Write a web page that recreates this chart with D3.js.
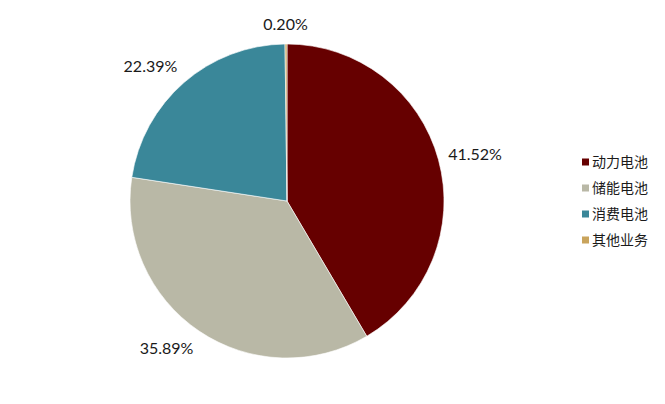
<!DOCTYPE html>
<html>
<head>
<meta charset="utf-8">
<script src="https://cdn.jsdelivr.net/npm/d3@7"></script>
<style>
  body { margin: 0; background: #fff; }
  svg { display: block; }
</style>
</head>
<body>
<svg id="chart" width="665" height="404"></svg>
<script>
// data
var categories = ['动力电池', '储能电池', '消费电池', '其他业务']
var shares = [41.52, 35.89, 22.39, 0.20]
var colours = ['#660000', '#B9B8A6', '#3A8799', '#C9A45C']

var width = 665, height = 404
var cx = 287, cy = 201, radius = 157

var svg = d3.select('#chart')

var pie = d3.pie()
            .sort(null)
            .value(function(d) { return d })
var arcs = pie(shares)

var arc = d3.arc().innerRadius(0).outerRadius(radius)

var g = svg.append('g').attr('transform', 'translate(' + cx + ',' + cy + ')')

g.selectAll('path')
 .data(arcs)
 .enter()
 .append('path')
 .attr('d', arc)
 .attr('fill', function(d, i) { return colours[i] })
 .attr('stroke', '#fff')
 .attr('stroke-width', 0.6)

// data labels, outside end: anchor just past the rim, then push the box out
var labelOffset = 10
function clamp(v) { return Math.max(-1, Math.min(1, v)) }

var labels = g.selectAll('text.lbl')
 .data(arcs)
 .enter()
 .append('text')
 .attr('class', 'lbl')
 .attr('text-anchor', 'middle')
 .attr('dy', '0.35em')
 .style('font-family', 'Lato, "Open Sans", sans-serif')
 .style('font-size', '16px')
 .style('fill', '#1a1a1a')
 .text(function(d) { return d.data.toFixed(2) + '%' })

labels.attr('transform', function(d) {
  var a = (d.startAngle + d.endAngle) / 2
  var dx = Math.sin(a), dy = -Math.cos(a)
  var box = this.getBBox()
  var x = dx * (radius + labelOffset) + clamp(dx * 3) * box.width / 2
  var y = dy * (radius + labelOffset) + clamp(dy * 1.2) * box.height / 2
  return 'translate(' + x + ',' + y + ')'
})

// legend
var legendY = d3.scaleBand()
                .domain(categories)
                .range([149, 253])

var legend = svg.append('g').attr('transform', 'translate(580,0)')
var rows = legend.selectAll('g')
                 .data(categories)
                 .enter()
                 .append('g')
                 .attr('transform', function(d) {
                   return 'translate(0,' + (legendY(d) + legendY.bandwidth() / 2) + ')'
                 })
rows.append('rect')
    .attr('x', 2)
    .attr('y', -3.5)
    .attr('width', 7)
    .attr('height', 7)
    .attr('fill', function(d, i) { return colours[i] })
rows.append('text')
    .attr('x', 12)
    .attr('dy', '0.36em')
    .style('font-family', '"Noto Sans CJK SC", sans-serif')
    .style('font-size', '14px')
    .style('fill', '#1a1a1a')
    .text(function(d) { return d })
</script>
</body>
</html>
